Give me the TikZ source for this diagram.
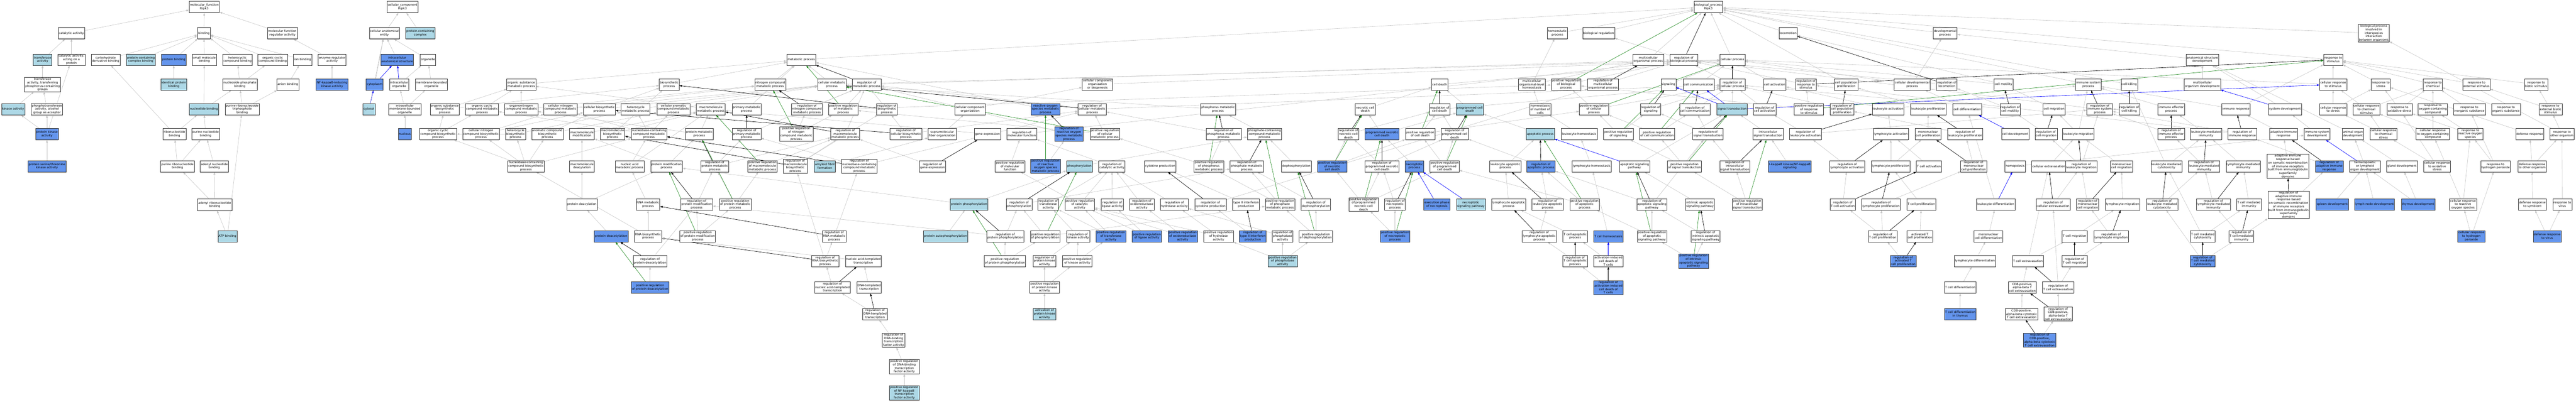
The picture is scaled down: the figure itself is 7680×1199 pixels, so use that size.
\documentclass[tikz,border=0pt]{standalone}
\usepackage{fontspec}
\setmainfont{DejaVu Sans}
\usetikzlibrary{arrows.meta,shadows}
\pgfdeclarelayer{bg}
\pgfsetlayers{bg,main}
\definecolor{lbc}{HTML}{ADD8E6}
\definecolor{cbc}{HTML}{6495ED}
\definecolor{egc}{HTML}{C4C4C4}
\definecolor{epc}{HTML}{228B22}
\tikzset{
 box/.style={draw=black!80,line width=0.9pt,fill=white,align=center,minimum height=34pt,inner xsep=2pt,inner ysep=1.5pt,font=\fontsize{9}{10.3}\selectfont,drop shadow={shadow xshift=0pt,shadow yshift=-1.6pt,fill=black!45}},
 lb/.style={fill=lbc},
 cb/.style={fill=cbc},
 eg/.style={draw=egc,line width=0.9pt,-{Triangle[length=8pt,width=5.5pt]}},
 er/.style={draw=black,line width=1pt,-{Triangle[length=8pt,width=5.5pt]}},
 ep/.style={draw=epc,line width=1pt,-{Triangle[length=8pt,width=5.5pt]}},
 eb/.style={draw=blue,line width=1pt,-{Triangle[length=8pt,width=5.5pt]}}
}
\newcommand\gonode[5]{\node[box,#4] (#1) at (#2,#3) {#5};}
\newcommand\goisa[2]{\foreach \pp in {#2}{\draw[eg] (#1) -- (\pp);}}
\newcommand\goreg[2]{\draw[er] (#1) -- (#2);}
\newcommand\gopos[2]{\draw[ep] (#1) -- (#2);}
\newcommand\gopart[2]{\draw[eb] (#1) -- (#2);}
\begin{document}
\begin{tikzpicture}[x=1pt,y=-1pt]
\useasboundingbox (0,0) rectangle (7680,1199);
% ---------- molecular function ----------
\gonode{mf}{609}{21}{}{molecular\_function\\Ripk3}
\gonode{catact}{213}{99}{}{catalytic activity}
\gonode{bind}{608}{99}{}{binding}
\gonode{mfreg}{842}{99}{}{molecular function\\regulator activity}
\gonode{trans}{127}{178}{lb}{transferase\\activity}
\gonode{catprot}{213}{178}{}{catalytic activity,\\acting on a\\protein}
\gonode{carbb}{315}{178}{}{carbohydrate\\derivative binding}
\gonode{pccb}{420}{178}{lb}{protein-containing\\complex binding}
\gonode{protb}{518}{178}{cb}{protein binding}
\gonode{smb}{609}{178}{}{small molecule\\binding}
\gonode{hetb}{708}{178}{}{heterocyclic\\compound binding}
\gonode{orgcb}{813}{178}{}{organic cyclic\\compound binding}
\gonode{ionb}{902}{178}{}{ion binding}
\gonode{enzreg}{990}{178}{}{enzyme regulator\\activity}
\gonode{transP}{127}{252}{}{transferase\\activity, transferring\\phosphorus-containing\\groups}
\gonode{identb}{518}{252}{lb}{identical protein\\binding}
\gonode{nspb}{715}{252}{}{nucleoside phosphate\\binding}
\gonode{anionb}{858}{252}{}{anion binding}
\gonode{nik}{990}{252}{cb}{NF-kappaB-inducing\\kinase activity}
\gonode{kinase}{39}{326}{lb}{kinase activity}
\gonode{phosalc}{140}{326}{}{phosphotransferase\\activity, alcohol\\group as acceptor}
\gonode{nucb}{608}{326}{lb}{nucleotide binding}
\gonode{prntpb}{722}{326}{}{purine ribonucleoside\\triphosphate\\binding}
\gonode{pk}{140}{400}{cb}{protein kinase\\activity}
\gonode{ribb}{520}{400}{}{ribonucleotide\\binding}
\gonode{purnb}{613}{400}{}{purine nucleotide\\binding}
\gonode{pstk}{140}{496}{cb}{protein serine/threonine\\kinase activity}
\gonode{purrb}{529}{496}{}{purine ribonucleotide\\binding}
\gonode{adenb}{639}{496}{}{adenyl nucleotide\\binding}
\gonode{adenrb}{640}{611}{}{adenyl ribonucleotide\\binding}
\gonode{atp}{678}{705}{lb}{ATP binding}
% ---------- cellular component ----------
\gonode{cc}{1200}{21}{}{cellular\_component\\Ripk3}
\gonode{cae}{1146}{99}{}{cellular anatomical\\entity}
\gonode{pcc}{1253}{99}{lb}{protein-containing\\complex}
\gonode{ias}{1184}{178}{cb}{intracellular\\anatomical structure}
\gonode{organelle}{1276}{178}{}{organelle}
\gonode{cytoplasm}{1117}{252}{cb}{cytoplasm}
\gonode{intorg}{1190}{252}{}{intracellular\\organelle}
\gonode{mbo}{1286}{252}{}{membrane-bounded\\organelle}
\gonode{cytosol}{1100}{326}{lb}{cytosol}
\gonode{imbo}{1207}{326}{}{intracellular\\membrane-bounded\\organelle}
\gonode{nucleus}{1207}{400}{cb}{nucleus}
% ---------- biological process: metabolic ----------
\gonode{orgsubmet}{1554}{252}{}{organic substance\\metabolic process}
\gonode{orgsubbio}{1326}{326}{}{organic substance\\biosynthetic\\process}
\gonode{orgcycmet}{1437}{326}{}{organic cyclic\\compound metabolic\\process}
\gonode{orgnitro}{1554}{326}{}{organonitrogen\\compound metabolic\\process}
\gonode{cellncmp}{1671}{326}{}{cellular nitrogen\\compound metabolic\\process}
\gonode{cellbio}{1787}{326}{}{cellular biosynthetic\\process}
\gonode{hetmet}{1895}{326}{}{heterocycle\\metabolic process}
\gonode{orgcycbio}{1306}{400}{}{organic cyclic\\compound biosynthetic\\process}
\gonode{cellncbio}{1434}{400}{}{cellular nitrogen\\compound biosynthetic\\process}
\gonode{hetbio}{1537}{400}{}{heterocycle\\biosynthetic\\process}
\gonode{arombio}{1632}{400}{}{aromatic compound\\biosynthetic\\process}
\gonode{macromod}{1735}{400}{}{macromolecule\\modification}
\gonode{macrobio}{1826}{400}{}{macromolecule\\biosynthetic\\process}
\gonode{nbcmet}{1935}{400}{}{nucleobase-containing\\compound metabolic\\process}
\gonode{nbcbio}{1568}{496}{}{nucleobase-containing\\compound biosynthetic\\process}
\gonode{macrodeac}{1735}{496}{}{macromolecule\\deacylation}
\gonode{nucacmet}{1877}{496}{}{nucleic acid\\metabolic process}
\gonode{metab}{2389}{178}{}{metabolic process}
\gonode{biosyn}{1995}{252}{}{biosynthetic\\process}
\gonode{ncmp}{2296}{252}{}{nitrogen compound\\metabolic process}
\gonode{cellmet}{2480}{252}{}{cellular metabolic\\process}
\gonode{regmet}{2584}{252}{}{regulation of\\metabolic process}
\gonode{ccob}{3272}{252}{}{cellular component\\organization\\or biogenesis}
\gonode{cellarom}{2008}{326}{}{cellular aromatic\\compound metabolic\\process}
\gonode{macromet}{2119}{326}{}{macromolecule\\metabolic process}
\gonode{primet}{2226}{326}{}{primary metabolic\\process}
\gonode{regncmp}{2406}{326}{}{regulation of\\nitrogen compound\\metabolic process}
\gonode{posregmet}{2514}{326}{}{positive regulation\\of metabolic\\process}
\gonode{regbiosyn}{2644}{326}{}{regulation of\\biosynthetic\\process}
\gonode{ccorg}{2892}{326}{}{cellular component\\organization}
\gonode{ros}{3117}{326}{cb}{reactive oxygen\\species metabolic\\process}
\gonode{regcellmet}{3256}{326}{}{regulation of\\cellular metabolic\\process}
\gonode{protmet}{2085}{400}{}{protein metabolic\\process}
\gonode{regprimet}{2226}{400}{}{regulation of\\primary metabolic\\process}
\gonode{posregncmp}{2374}{400}{}{positive regulation\\of nitrogen\\compound metabolic\\process}
\gonode{regmacromet}{2520}{400}{}{regulation of\\macromolecule\\metabolic process}
\gonode{regcellbio}{2701}{400}{}{regulation of\\cellular biosynthetic\\process}
\gonode{supramol}{2809}{400}{}{supramolecular\\fiber organization}
\gonode{geneexp}{2944}{400}{}{gene expression}
\gonode{regmf}{3046}{400}{}{regulation of\\molecular function}
\gonode{regros}{3187}{400}{cb}{regulation of\\reactive oxygen\\species metabolic\\process}
\gonode{posregcellmet}{3294}{400}{}{positive regulation\\of cellular\\metabolic process}
\gonode{protmod}{1987}{496}{}{protein modification\\process}
\gonode{regprotmet}{2131}{496}{}{regulation of\\protein metabolic\\process}
\gonode{posregmacromet}{2273}{496}{}{positive regulation\\of macromolecule\\metabolic process}
\gonode{regmacrobio}{2371}{496}{}{regulation of\\macromolecule\\biosynthetic\\process}
\gonode{amyloid}{2459}{496}{lb}{amyloid fibril\\formation}
\gonode{regnbc}{2562}{496}{}{regulation of\\nucleobase-containing\\compound metabolic\\process}
\gonode{reggene}{2780}{496}{}{regulation of\\gene expression}
\gonode{posregmf}{3011}{496}{}{positive regulation\\of molecular\\function}
\gonode{posregros}{3117}{496}{cb}{positive regulation\\of reactive\\oxygen species\\metabolic process}
\gonode{phos}{3218}{496}{lb}{phosphorylation}
\gonode{regcat}{3315}{496}{}{regulation of\\catalytic activity}
% ---------- cell death / homeostasis ----------
\gonode{homeo}{4643}{99}{}{homeostatic\\process}
\gonode{bioreg}{4766}{99}{}{biological regulation}
\gonode{celldeath}{4292}{252}{}{cell death}
\gonode{multihomeo}{4567}{252}{}{multicellular\\organismal-level\\homeostasis}
\gonode{posregbp}{4669}{252}{}{positive regulation\\of biological\\process}
\gonode{regmultorg}{4779}{252}{}{regulation of\\multicellular\\organismal process}
\gonode{phosmet}{3631}{326}{}{phosphorus metabolic\\process}
\gonode{necdeath}{4070}{326}{}{necrotic cell\\death}
\gonode{regcd}{4292}{326}{}{regulation of\\cell death}
\gonode{pcd}{4382}{326}{lb}{programmed cell\\death}
\gonode{homeonum}{4592}{326}{}{homeostasis\\of number of\\cells}
\gonode{posregcp}{4752}{326}{}{positive regulation\\of cellular\\process}
\gonode{regphospmet}{3648}{400}{}{regulation of\\phosphorus metabolic\\process}
\gonode{phosphmet}{3770}{400}{}{phosphate-containing\\compound metabolic\\process}
\gonode{regnec}{4020}{400}{}{regulation of\\necrotic cell\\death}
\gonode{prognec}{4120}{400}{cb}{programmed necrotic\\cell death}
\gonode{posregcd}{4234}{400}{}{positive regulation\\of cell death}
\gonode{regpcd}{4337}{400}{}{regulation of\\programmed cell\\death}
\gonode{apoptotic}{4592}{400}{lb}{apoptotic process}
\gonode{leukhomeo}{4708}{400}{}{leukocyte homeostasis}
\gonode{posregsignaling}{4825}{400}{}{positive regulation\\of signaling}
\gonode{cytokine}{3459}{496}{}{cytokine production}
\gonode{posregphospmet}{3604}{496}{}{positive regulation\\of phosphorus\\metabolic process}
\gonode{regphosphmet}{3717}{496}{}{regulation of\\phosphate metabolic\\process}
\gonode{dephos}{3865}{496}{}{dephosphorylation}
\gonode{posregnec}{3972}{496}{cb}{positive regulation\\of necrotic\\cell death}
\gonode{regprognec}{4120}{496}{}{regulation of\\programmed necrotic\\cell death}
\gonode{necroptotic}{4217}{496}{cb}{necroptotic\\process}
\gonode{posregpcd}{4307}{496}{}{positive regulation\\of programmed\\cell death}
\gonode{leukapo}{4488}{496}{}{leukocyte apoptotic\\process}
\gonode{regapo}{4594}{496}{cb}{regulation of\\apoptotic process}
\gonode{lymhomeo}{4745}{496}{}{lymphocyte homeostasis}
% ---------- cellular process / signaling ----------
\gonode{bp}{5093}{21}{}{biological\_process\\Ripk3}
\gonode{loco}{5331}{99}{}{locomotion}
\gonode{devproc}{5799}{99}{}{developmental\\process}
\gonode{multorg}{4914}{178}{}{multicellular\\organismal process}
\gonode{regbp}{5020}{178}{}{regulation of\\biological process}
\gonode{cellproc}{5165}{178}{}{cellular process}
\gonode{signaling}{4974}{252}{}{signaling}
\gonode{cellcomm}{5064}{252}{}{cell communication}
\gonode{regcp}{5165}{252}{}{regulation of\\cellular process}
\gonode{cellact}{5291}{252}{}{cell activation}
\gonode{regrs}{5384}{252}{}{regulation of\\response to\\stimulus}
\gonode{cellpop}{5504}{252}{}{cell population\\proliferation}
\gonode{celldevp}{5701}{252}{}{cellular developmental\\process}
\gonode{regloco}{5804}{252}{}{regulation of\\locomotion}
\gonode{cellmot}{5973}{252}{}{cell motility}
\gonode{immsys}{6226}{252}{}{immune system\\process}
\gonode{regsignaling}{4921}{326}{}{regulation of\\signaling}
\gonode{regcellcomm}{5053}{326}{}{regulation of\\cell communication}
\gonode{sigtrans}{5164}{326}{lb}{signal transduction}
\gonode{regcellact}{5261}{326}{}{regulation of\\cell activation}
\gonode{posregrs}{5393}{326}{}{positive regulation\\of response\\to stimulus}
\gonode{regcellpop}{5492}{326}{}{regulation of\\cell population\\proliferation}
\gonode{leukact}{5629}{326}{}{leukocyte activation}
\gonode{leukprolif}{5749}{326}{}{leukocyte proliferation}
\gonode{celldiff}{5865}{326}{}{cell differentiation}
\gonode{regcellmot}{5993}{326}{}{regulation of\\cell motility}
\gonode{cellmig}{6124}{326}{}{cell migration}
\gonode{regimmsys}{6260}{326}{}{regulation of\\immune system\\process}
\gonode{posregcellcomm}{4940}{400}{}{positive regulation\\of cell communication}
\gonode{regsigtrans}{5092}{400}{}{regulation of\\signal transduction}
\gonode{intrasig}{5271}{400}{}{intracellular\\signal transduction}
\gonode{regleukact}{5383}{400}{}{regulation of\\leukocyte activation}
\gonode{lymact}{5637}{400}{}{lymphocyte activation}
\gonode{monoprolif}{5748}{400}{}{mononuclear\\cell proliferation}
\gonode{regleukprolif}{5859}{400}{}{regulation of\\leukocyte proliferation}
\gonode{celldev}{6008}{400}{}{cell development}
\gonode{regcellmig}{6100}{400}{}{regulation of\\cell migration}
\gonode{leukmig}{6196}{400}{}{leukocyte migration}
\gonode{aposig}{4873}{496}{}{apoptotic signaling\\pathway}
\gonode{posregsigtrans}{5022}{496}{}{positive regulation\\of signal transduction}
\gonode{regintrasig}{5172}{496}{}{regulation of\\intracellular\\signal transduction}
\gonode{ikk}{5336}{496}{cb}{I-kappaB kinase/NF-kappaB\\signaling}
\gonode{reglymact}{5507}{496}{}{regulation of\\lymphocyte activation}
\gonode{lymprolif}{5637}{496}{}{lymphocyte proliferation}
\gonode{tcellact}{5751}{496}{}{T cell activation}
\gonode{regmonoprolif}{5884}{496}{}{regulation of\\mononuclear\\cell proliferation}
\gonode{hemo}{6008}{496}{}{hemopoiesis}
\gonode{cellextra}{6108}{496}{}{cellular extravasation}
\gonode{regleukmig}{6205}{496}{}{regulation of\\leukocyte migration}
% ---------- response / development ----------
\gonode{interspecies}{7077}{99}{}{biological process\\involved in\\interspecies\\interaction\\between organisms}
\gonode{anat}{6566}{178}{}{anatomical structure\\development}
\gonode{respstim}{6956}{178}{}{response to\\stimulus}
\gonode{cellkill}{6348}{252}{}{cell killing}
\gonode{multorgdev}{6566}{252}{}{multicellular\\organism development}
\gonode{cellrs}{6956}{252}{}{cellular response\\to stimulus}
\gonode{respstress}{7098}{252}{}{response to\\stress}
\gonode{respchem}{7253}{252}{}{response to\\chemical}
\gonode{respext}{7383}{252}{}{response to\\external stimulus}
\gonode{respbiotic}{7561}{252}{}{response to\\biotic stimulus}
\gonode{regcellkill}{6348}{326}{}{regulation of\\cell killing}
\gonode{immeff}{6473}{326}{}{immune effector\\process}
\gonode{immresp}{6666}{326}{}{immune response}
\gonode{sysdev}{6812}{326}{}{system development}
\gonode{cellrstress}{6956}{326}{}{cellular response\\to stress}
\gonode{cellrchem}{7055}{326}{}{cellular response\\to chemical\\stimulus}
\gonode{respox}{7154}{326}{}{response to\\oxidative stress}
\gonode{respoxy}{7253}{326}{}{response to\\oxygen-containing\\compound}
\gonode{respinorg}{7362}{326}{}{response to\\inorganic substance}
\gonode{resporg}{7471}{326}{}{response to\\organic substance}
\gonode{respextbiotic}{7604}{326}{}{response to\\external biotic\\stimulus}
\gonode{regimmeff}{6473}{400}{}{regulation of\\immune effector\\process}
\gonode{leukimm}{6577}{400}{}{leukocyte mediated\\immunity}
\gonode{regimmresp}{6685}{400}{}{regulation of\\immune response}
\gonode{adapt}{6808}{400}{}{adaptive immune\\response}
\gonode{immsysdev}{6908}{400}{}{immune system\\development}
\gonode{animorg}{7015}{400}{}{animal organ\\development}
\gonode{cellrchemstress}{7106}{400}{}{cellular response\\to chemical\\stress}
\gonode{cellroxy}{7253}{400}{}{cellular response\\to oxygen-containing\\compound}
\gonode{resproS}{7365}{400}{}{response to\\reactive oxygen\\species}
\gonode{defresp}{7542}{400}{}{defense response}
\gonode{respother}{7638}{400}{}{response to\\other organism}
\gonode{monomig}{6325}{496}{}{mononuclear\\cell migration}
\gonode{leukcyto}{6459}{496}{}{leukocyte mediated\\cytotoxicity}
\gonode{regleukimm}{6571}{496}{}{regulation of\\leukocyte mediated\\immunity}
\gonode{lymimm}{6688}{496}{}{lymphocyte mediated\\immunity}
\gonode{adaptsom}{6821}{496}{}{adaptive immune\\response based\\on somatic recombination\\of immune receptors\\built from immunoglobulin\\superfamily\\domains}
\gonode{regadapt}{6944}{496}{cb}{regulation of\\adaptive immune\\response}
\gonode{hemlym}{7051}{496}{}{hematopoietic\\or lymphoid\\organ development}
\gonode{gland}{7161}{496}{}{gland development}
\gonode{cellrox}{7266}{496}{}{cellular response\\to oxidative\\stress}
\gonode{resph2o2}{7440}{496}{}{response to\\hydrogen peroxide}
\gonode{defother}{7549}{496}{}{defense response\\to other organism}
% ---------- row 610 ----------
\gonode{protdeacyl}{1735}{610}{}{protein deacylation}
\gonode{rnamet}{1932}{610}{}{RNA metabolic\\process}
\gonode{regprotmod}{2077}{610}{}{regulation of\\protein modification\\process}
\gonode{posregprotmet}{2192}{610}{}{positive regulation\\of protein metabolic\\process}
\gonode{protphos}{2889}{610}{lb}{protein phosphorylation}
\gonode{regphos}{3038}{610}{}{regulation of\\phosphorylation}
\gonode{regtransf}{3125}{610}{}{regulation of\\transferase\\activity}
\gonode{posregcat}{3219}{610}{}{positive regulation\\of catalytic\\activity}
\gonode{regligase}{3316}{610}{}{regulation of\\ligase activity}
\gonode{regoxid}{3404}{610}{}{regulation of\\oxidoreductase\\activity}
\gonode{reghydro}{3501}{610}{}{regulation of\\hydrolase activity}
\gonode{regcytok}{3609}{610}{}{regulation of\\cytokine production}
\gonode{ifng}{3715}{610}{}{type II interferon\\production}
\gonode{posregphosphmet}{3816}{610}{}{positive regulation\\of phosphate\\metabolic process}
\gonode{regdephos}{3923}{610}{}{regulation of\\dephosphorylation}
\gonode{posregprognec}{4065}{610}{}{positive regulation\\of programmed\\necrotic cell\\death}
\gonode{regnecrop}{4159}{610}{}{regulation of\\necroptotic\\process}
\gonode{execnec}{4284}{610}{cb}{execution phase\\of necroptosis}
\gonode{necsig}{4385}{610}{lb}{necroptotic\\signaling pathway}
\gonode{lymapo}{4498}{610}{}{lymphocyte apoptotic\\process}
\gonode{regleukapo}{4614}{610}{}{regulation of\\leukocyte apoptotic\\process}
\gonode{posregapo}{4724}{610}{}{positive regulation\\of apoptotic\\process}
\gonode{regaposig}{4925}{610}{}{regulation of\\apoptotic signaling\\pathway}
\gonode{intrapo}{5068}{610}{}{intrinsic apoptotic\\signaling pathway}
\gonode{posregintrasig}{5209}{610}{}{positive regulation\\of intracellular\\signal transduction}
\gonode{regtcellact}{5494}{610}{}{regulation of\\T cell activation}
\gonode{reglymprolif}{5608}{610}{}{regulation of\\lymphocyte proliferation}
\gonode{tcellprolif}{5728}{610}{}{T cell proliferation}
\gonode{leukdiff}{5950}{610}{}{leukocyte differentiation}
\gonode{regcellextra}{6121}{610}{}{regulation of\\cellular extravasation}
\gonode{regmonomig}{6224}{610}{}{regulation of\\mononuclear\\cell migration}
\gonode{lymmig}{6328}{610}{}{lymphocyte migration}
\gonode{regleukcyto}{6446}{610}{}{regulation of\\leukocyte mediated\\cytotoxicity}
\gonode{reglymimm}{6599}{610}{}{regulation of\\lymphocyte mediated\\immunity}
\gonode{tcellimm}{6705}{610}{}{T cell mediated\\immunity}
\gonode{regadaptsom}{6823}{611}{}{regulation of\\adaptive immune\\response based\\on somatic recombination\\of immune receptors\\built from immunoglobulin\\superfamily\\domains}
\gonode{spleen}{6953}{610}{cb}{spleen development}
\gonode{lymphnode}{7079}{610}{cb}{lymph node development}
\gonode{thymus}{7209}{610}{cb}{thymus development}
\gonode{cellrros}{7343}{610}{}{cellular response\\to reactive\\oxygen species}
\gonode{defsymb}{7550}{610}{}{defense response\\to symbiont}
\gonode{respvirus}{7639}{610}{}{response to\\virus}
% ---------- row 705 ----------
\gonode{protdeacet}{1822}{705}{cb}{protein deacetylation}
\gonode{rnabio}{1932}{705}{}{RNA biosynthetic\\process}
\gonode{posregprotmod}{2080}{705}{}{positive regulation\\of protein modification\\process}
\gonode{regrnamet}{2487}{705}{}{regulation of\\RNA metabolic\\process}
\gonode{autophos}{2819}{705}{lb}{protein autophosphorylation}
\gonode{regprotphos}{2997}{705}{}{regulation of\\protein phosphorylation}
\gonode{posregphos}{3116}{705}{}{positive regulation\\of phosphorylation}
\gonode{regkinase}{3214}{705}{}{regulation of\\kinase activity}
\gonode{posregtransf}{3312}{705}{cb}{positive regulation\\of transferase\\activity}
\gonode{posregligase}{3419}{705}{cb}{positive regulation\\of ligase activity}
\gonode{posregoxid}{3526}{705}{cb}{positive regulation\\of oxidoreductase\\activity}
\gonode{posreghydro}{3633}{705}{}{positive regulation\\of hydrolase\\activity}
\gonode{regifng}{3735}{705}{cb}{regulation of\\type II interferon\\production}
\gonode{regphosphatase}{3824}{705}{}{regulation of\\phosphatase\\activity}
\gonode{posregdephos}{3923}{705}{}{positive regulation\\of dephosphorylation}
\gonode{posregnecrop}{4159}{705}{cb}{positive regulation\\of necroptotic\\process}
\gonode{reglymapo}{4589}{705}{}{regulation of\\lymphocyte apoptotic\\process}
\gonode{tcellapo}{4696}{705}{}{T cell apoptotic\\process}
\gonode{tcellhomeo}{4795}{705}{cb}{T cell homeostasis}
\gonode{posregaposig}{4925}{705}{}{positive regulation\\of apoptotic\\signaling pathway}
\gonode{regintrapo}{5085}{705}{}{regulation of\\intrinsic apoptotic\\signaling pathway}
\gonode{regtcellprolif}{5613}{705}{}{regulation of\\T cell proliferation}
\gonode{acttcellprolif}{5724}{705}{}{activated T\\cell proliferation}
\gonode{monodiff}{5928}{705}{}{mononuclear\\cell differentiation}
\gonode{tcellmig}{6185}{705}{}{T cell migration}
\gonode{reglymmig}{6294}{705}{}{regulation of\\lymphocyte migration}
\gonode{tcellcyto}{6567}{705}{}{T cell mediated\\cytotoxicity}
\gonode{regtcellimm}{6682}{705}{}{regulation of\\T cell mediated\\immunity}
\gonode{cellrh2o2}{7368}{705}{cb}{cellular response\\to hydrogen\\peroxide}
\gonode{defvirus}{7594}{705}{cb}{defense response\\to virus}
% ---------- row 779 ----------
\gonode{regprotdeacet}{1938}{779}{}{regulation of\\protein deacetylation}
\gonode{regrnabio}{2460}{779}{}{regulation of\\RNA biosynthetic\\process}
\gonode{nuctrans}{2574}{779}{}{nucleic acid-templated\\transcription}
\gonode{posregprotphos}{2996}{779}{}{positive regulation\\of protein phosphorylation}
\gonode{regpk}{3114}{779}{}{regulation of\\protein kinase\\activity}
\gonode{posregkinase}{3212}{779}{}{positive regulation\\of kinase activity}
\gonode{posregphosphatase}{3824}{779}{lb}{positive regulation\\of phosphatase\\activity}
\gonode{regtcellapo}{4696}{779}{}{regulation of\\T cell apoptotic\\process}
\gonode{aicd}{4795}{779}{}{activation-induced\\cell death of\\T cells}
\gonode{posregintrapo}{5049}{779}{cb}{positive regulation\\of intrinsic\\apoptotic signaling\\pathway}
\gonode{regacttcell}{5674}{779}{cb}{regulation of\\activated T\\cell proliferation}
\gonode{lymdiff}{5888}{779}{}{lymphocyte differentiation}
\gonode{tcellextra}{6046}{779}{}{T cell extravasation}
\gonode{regtcellmig}{6185}{779}{}{regulation of\\T cell migration}
\gonode{regtcellcyto}{6567}{779}{cb}{regulation of\\T cell mediated\\cytotoxicity}
% ---------- deeper rows ----------
\gonode{posregprotdeacet}{1938}{858}{cb}{positive regulation\\of protein deacetylation}
\gonode{regnuctrans}{2482}{858}{}{regulation of\\nucleic acid-templated\\transcription}
\gonode{dnatrans}{2591}{858}{}{DNA-templated\\transcription}
\gonode{posregpk}{3114}{858}{}{positive regulation\\of protein kinase\\activity}
\gonode{regaicd}{4795}{858}{cb}{regulation of\\activation-induced\\cell death of\\T cells}
\gonode{tcelldiff}{5844}{858}{}{T cell differentiation}
\gonode{cdextra}{6029}{858}{}{CD8-positive,\\alpha-beta T\\cell extravasation}
\gonode{regtcellextra}{6136}{858}{}{regulation of\\T cell extravasation}
\gonode{regdnatrans}{2609}{937}{}{regulation of\\DNA-templated\\transcription}
\gonode{actpk}{3114}{937}{lb}{activation of\\protein kinase\\activity}
\gonode{tcellthymus}{5844}{937}{cb}{T cell differentiation\\in thymus}
\gonode{cdcytoextra}{6027}{937}{}{CD8-positive,\\alpha-beta cytotoxic\\T cell extravasation}
\gonode{regcdextra}{6136}{937}{}{regulation of\\CD8-positive,\\alpha-beta T\\cell extravasation}
\gonode{regdnabind}{2664}{1015}{}{regulation of\\DNA-binding\\transcription\\factor activity}
\gonode{regcdcyto}{6081}{1015}{cb}{regulation of\\CD8-positive,\\alpha-beta cytotoxic\\T cell extravasation}
\gonode{posregdnabind}{2696}{1094}{}{positive regulation\\of DNA-binding\\transcription\\factor activity}
\gonode{posregnfkb}{2696}{1172}{lb}{positive regulation\\of NF-kappaB\\transcription\\factor activity}
% ================= edges =================
\begin{pgfonlayer}{bg}
\fill[white] (0,0) rectangle (7680,1199);
% MF
\goisa{catact}{mf}\goisa{bind}{mf}\goisa{mfreg}{mf}
\goisa{trans}{catact}\goisa{catprot}{catact}
\goisa{carbb}{bind}\goisa{pccb}{bind}\goisa{protb}{bind}\goisa{smb}{bind}\goisa{hetb}{bind}\goisa{orgcb}{bind}\goisa{ionb}{bind}
\goisa{enzreg}{mfreg}\goisa{transP}{trans}\goisa{identb}{protb}\goisa{nspb}{hetb,orgcb}\goisa{anionb}{ionb}\goisa{nik}{enzreg}
\goisa{kinase}{transP}\goisa{phosalc}{transP}\goisa{nucb}{smb,nspb}\goisa{prntpb}{nspb,anionb}
\goisa{pk}{kinase,phosalc,catprot}\goisa{ribb}{nucb,carbb}\goisa{purnb}{nucb}\goisa{pstk}{pk}
\goisa{purrb}{ribb,purnb}\goisa{adenb}{purnb}\goisa{adenrb}{purrb,adenb}\goisa{atp}{adenrb,prntpb}
% CC
\goisa{cae}{cc}\goisa{pcc}{cc}\goisa{ias}{cae}\goisa{organelle}{cae}\goisa{cytoplasm}{cae}\gopart{cytoplasm}{ias}
\gopart{intorg}{ias}\goisa{intorg}{organelle}\goisa{mbo}{organelle}\gopart{cytosol}{cytoplasm}\goisa{cytosol}{cae}
\goisa{imbo}{intorg,mbo}\goisa{nucleus}{imbo}
% BP top
\goisa{metab}{bp}\goisa{cellproc}{bp}\goisa{bioreg}{bp}\goisa{homeo}{bp}\goisa{loco}{bp}\goisa{devproc}{bp}
\goisa{interspecies}{bp}\goisa{multorg}{bp}\goisa{respstim}{bp}\goisa{immsys}{bp}\goisa{cellkill}{bp}\goisa{cellpop}{bp}
\goisa{regbp}{bioreg}\goreg{regbp}{bp}\goisa{posregbp}{regbp}\gopos{posregbp}{bp}
% metabolic
\goisa{biosyn}{metab}\goisa{ncmp}{metab}\goisa{cellmet}{metab,cellproc}\goisa{regmet}{regbp}\goreg{regmet}{metab}
\goisa{orgsubmet}{metab}\goisa{ccob}{cellproc}
\goisa{orgsubbio}{orgsubmet,biosyn}\goisa{orgcycmet}{orgsubmet}\goisa{orgnitro}{orgsubmet,ncmp}\goisa{cellncmp}{ncmp,cellmet}
\goisa{cellbio}{biosyn,cellmet}\goisa{hetmet}{cellmet}\goisa{cellarom}{cellmet}\goisa{macromet}{orgsubmet}\goisa{primet}{metab}
\goisa{regncmp}{regmet}\goreg{regncmp}{ncmp}\goisa{posregmet}{regmet,posregbp}\gopos{posregmet}{metab}
\goisa{regbiosyn}{regmet}\goreg{regbiosyn}{biosyn}\goisa{ccorg}{ccob}\goisa{ros}{metab}
\goisa{regcellmet}{regmet,regcp}\goreg{regcellmet}{cellmet}
\goisa{orgcycbio}{orgcycmet,orgsubbio}\goisa{cellncbio}{cellncmp,cellbio}\goisa{hetbio}{hetmet,orgcycbio}\goisa{arombio}{cellarom,cellbio}
\goisa{macromod}{macromet}\goisa{macrobio}{macromet,biosyn}\goisa{nbcmet}{cellarom,hetmet,orgcycmet,cellncmp}
\goisa{protmet}{macromet,orgnitro}\goisa{regprimet}{regmet}\goreg{regprimet}{primet}
\goisa{posregncmp}{regncmp,posregmet}\gopos{posregncmp}{ncmp}\goisa{regmacromet}{regmet}\goreg{regmacromet}{macromet}
\goisa{regcellbio}{regbiosyn,regcellmet}\goreg{regcellbio}{cellbio}\goisa{supramol}{ccorg}\goisa{geneexp}{macromet}\goisa{regmf}{regbp}
\goisa{regros}{regmet}\goreg{regros}{ros}\goisa{posregcellmet}{regcellmet,posregmet}\gopos{posregcellmet}{cellmet}
\goisa{nbcbio}{nbcmet,cellncbio,hetbio,arombio,orgcycbio}\goisa{macrodeac}{macromod}\goisa{nucacmet}{nbcmet,macromet}
\goisa{protmod}{protmet,macromod}\goisa{regprotmet}{regmacromet,regprimet}\goreg{regprotmet}{protmet}
\goisa{posregmacromet}{regmacromet}\gopos{posregmacromet}{macromet}\goisa{regmacrobio}{regmacromet,regbiosyn}\goreg{regmacrobio}{macrobio}
\goisa{amyloid}{supramol}\goisa{regnbc}{regcellmet,regprimet}\goreg{regnbc}{nbcmet}\goisa{reggene}{regmacromet}\goreg{reggene}{geneexp}
\goisa{posregmf}{regmf}\goisa{posregros}{regros}\gopos{posregros}{ros}\goisa{phos}{phosphmet}\goisa{regcat}{regmf}
% row 610
\goisa{protdeacyl}{macrodeac,protmod}\goisa{rnamet}{nucacmet}\goisa{regprotmod}{regprotmet}\goreg{regprotmod}{protmod}
\goisa{posregprotmet}{regprotmet,posregmacromet}\gopos{posregprotmet}{protmet}\goisa{protphos}{phos,protmod}
\goisa{regphos}{regphosphmet}\goreg{regphos}{phos}\goisa{regtransf}{regcat}\goisa{posregcat}{regcat,posregmf}
\goisa{regligase}{regcat}\goisa{regoxid}{regcat}\goisa{reghydro}{regcat}\goisa{regcytok}{regmultorg}\goreg{regcytok}{cytokine}
\goisa{ifng}{cytokine}\goisa{posregphosphmet}{regphosphmet,posregphospmet}\gopos{posregphosphmet}{phosphmet}
\goisa{regdephos}{regphosphmet}\goreg{regdephos}{dephos}\goisa{posregprognec}{regprognec,posregnec,posregpcd}\gopos{posregprognec}{prognec}
\goisa{regnecrop}{regprognec}\goreg{regnecrop}{necroptotic}\gopart{execnec}{necroptotic}\gopart{necsig}{necroptotic}
\goisa{lymapo}{leukapo}\goisa{regleukapo}{regapo}\goreg{regleukapo}{leukapo}\goisa{posregapo}{regapo,posregpcd}\gopos{posregapo}{apoptotic}
\goisa{regaposig}{regapo,regsigtrans}\goreg{regaposig}{aposig}\goisa{intrapo}{aposig}
\goisa{posregintrasig}{regintrasig,posregsigtrans}\gopos{posregintrasig}{intrasig}
\goisa{regtcellact}{reglymact}\goreg{regtcellact}{tcellact}\goisa{reglymprolif}{regmonoprolif}\goreg{reglymprolif}{lymprolif}
\goisa{tcellprolif}{lymprolif}\goisa{leukdiff}{celldiff}\gopart{leukdiff}{hemo}
\goisa{regcellextra}{regleukmig}\goreg{regcellextra}{cellextra}\goisa{regmonomig}{regleukmig}\goreg{regmonomig}{monomig}
\goisa{lymmig}{monomig}\goisa{regleukcyto}{regleukimm}\goreg{regleukcyto}{leukcyto}\goisa{reglymimm}{regleukimm}\goreg{reglymimm}{lymimm}
\goisa{tcellimm}{lymimm}\goisa{regadaptsom}{regadapt}\goreg{regadaptsom}{adaptsom}
\goisa{spleen}{hemlym}\goisa{lymphnode}{hemlym}\goisa{thymus}{hemlym,gland}\goisa{cellrros}{resproS,cellroxy}
\goisa{defsymb}{defother}\goisa{respvirus}{respother}
% row 705
\goisa{protdeacet}{protdeacyl}\goisa{rnabio}{rnamet,nbcbio}\goisa{posregprotmod}{regprotmod,posregprotmet}\gopos{posregprotmod}{protmod}
\goisa{regrnamet}{regnbc}\goreg{regrnamet}{rnamet}\goisa{autophos}{protphos}
\goisa{regprotphos}{regphos,regprotmod}\goreg{regprotphos}{protphos}\goisa{posregphos}{regphos,posregphosphmet}\gopos{posregphos}{phos}
\goisa{regkinase}{regtransf}\goisa{posregtransf}{regtransf,posregcat}\goisa{posregligase}{regligase,posregcat}
\goisa{posregoxid}{regoxid,posregcat}\goisa{posreghydro}{reghydro,posregcat}\goisa{regifng}{regcytok}\goreg{regifng}{ifng}
\goisa{regphosphatase}{reghydro}\goisa{posregdephos}{regdephos,posregphosphmet}\gopos{posregdephos}{dephos}
\goisa{posregnecrop}{regnecrop,posregprognec}\gopos{posregnecrop}{necroptotic}
\goisa{reglymapo}{regleukapo}\goreg{reglymapo}{lymapo}\goisa{tcellapo}{lymapo}\goisa{tcellhomeo}{lymhomeo}
\goisa{posregaposig}{regaposig,posregapo}\gopos{posregaposig}{aposig}\goisa{regintrapo}{regaposig}\goreg{regintrapo}{intrapo}
\goisa{regtcellprolif}{reglymprolif,regtcellact}\goreg{regtcellprolif}{tcellprolif}\goisa{acttcellprolif}{tcellprolif}
\goisa{monodiff}{leukdiff}\goisa{tcellmig}{lymmig}\goisa{reglymmig}{regmonomig}\goreg{reglymmig}{lymmig}
\goisa{tcellcyto}{leukcyto,tcellimm}\goisa{regtcellimm}{reglymimm,regadaptsom}\goreg{regtcellimm}{tcellimm}
\goisa{cellrh2o2}{resph2o2,cellrros}\goisa{defvirus}{defsymb,respvirus}
% row 779
\goisa{regprotdeacet}{regprotmod}\goreg{regprotdeacet}{protdeacet}\goisa{regrnabio}{regrnamet,regmacrobio}\goreg{regrnabio}{rnabio}
\goisa{nuctrans}{rnabio}\goisa{posregprotphos}{regprotphos,posregphos}\gopos{posregprotphos}{protphos}
\goisa{regpk}{regkinase}\goisa{posregkinase}{regkinase,posregtransf}\goisa{posregphosphatase}{regphosphatase,posreghydro,posregdephos}
\goisa{regtcellapo}{reglymapo}\goreg{regtcellapo}{tcellapo}\goisa{aicd}{tcellapo}\gopart{aicd}{tcellhomeo}
\goisa{posregintrapo}{regintrapo,posregaposig}\gopos{posregintrapo}{intrapo}
\goisa{regacttcell}{regtcellprolif}\goreg{regacttcell}{acttcellprolif}\goisa{lymdiff}{monodiff}
\goisa{tcellextra}{tcellmig,cellextra}\goisa{regtcellmig}{reglymmig}\goreg{regtcellmig}{tcellmig}
\goisa{regtcellcyto}{regtcellimm,regleukcyto}\goreg{regtcellcyto}{tcellcyto}
% deeper
\goisa{posregprotdeacet}{regprotdeacet}\gopos{posregprotdeacet}{protdeacet}
\goisa{regnuctrans}{regrnabio}\goreg{regnuctrans}{nuctrans}\goisa{dnatrans}{nuctrans}
\goisa{posregpk}{regpk,posregkinase}\goisa{regaicd}{regtcellapo}\goreg{regaicd}{aicd}\goisa{tcelldiff}{lymdiff}
\goisa{cdextra}{tcellextra}\goisa{regtcellextra}{regtcellmig,regcellextra}\goreg{regtcellextra}{tcellextra}
\goisa{regdnatrans}{regnuctrans}\goreg{regdnatrans}{dnatrans}\goisa{actpk}{posregpk}\goisa{tcellthymus}{tcelldiff}
\goisa{cdcytoextra}{cdextra}\goisa{regcdextra}{regtcellextra}\goreg{regcdextra}{cdextra}
\goisa{regdnabind}{regdnatrans}\goisa{regcdcyto}{regcdextra}\goreg{regcdcyto}{cdcytoextra}
\goisa{posregdnabind}{regdnabind}\goisa{posregnfkb}{posregdnabind}
% cell death etc.
\goisa{celldeath}{cellproc}\goisa{multihomeo}{homeo,multorg}\goisa{regmultorg}{regbp}\goreg{regmultorg}{multorg}
\goisa{phosmet}{cellmet}\goisa{necdeath}{celldeath}\goisa{regcd}{regcp}\goreg{regcd}{celldeath}\goisa{pcd}{celldeath}
\goisa{homeonum}{multihomeo}\goisa{posregcp}{regcp,posregbp}\gopos{posregcp}{cellproc}
\goisa{regphospmet}{regcellmet}\goreg{regphospmet}{phosmet}\goisa{phosphmet}{phosmet}
\goisa{regnec}{regcd}\goreg{regnec}{necdeath}\goisa{prognec}{necdeath,pcd}\goisa{posregcd}{regcd,posregcp}\gopos{posregcd}{celldeath}
\goisa{regpcd}{regcd}\goreg{regpcd}{pcd}\goisa{apoptotic}{pcd}\goisa{leukhomeo}{homeonum}
\goisa{posregsignaling}{regsignaling,posregcp}\gopos{posregsignaling}{signaling}
\goisa{posregphospmet}{regphospmet,posregcellmet}\gopos{posregphospmet}{phosmet}
\goisa{regphosphmet}{regphospmet}\goreg{regphosphmet}{phosphmet}\goisa{dephos}{phosphmet}
\goisa{posregnec}{regnec,posregcd}\gopos{posregnec}{necdeath}\goisa{regprognec}{regnec,regpcd}\goreg{regprognec}{prognec}
\goisa{necroptotic}{prognec}\goisa{posregpcd}{regpcd,posregcd}\gopos{posregpcd}{pcd}\goisa{leukapo}{apoptotic}
\goisa{regapo}{regpcd}\goreg{regapo}{apoptotic}\goisa{lymhomeo}{leukhomeo}
% cellular process / signaling
\goisa{signaling}{cellproc}\goisa{cellcomm}{cellproc}\goisa{regcp}{regbp}\goreg{regcp}{cellproc}\goisa{cellact}{cellproc}
\goisa{regrs}{regbp}\goreg{regrs}{respstim}\goisa{celldevp}{devproc,cellproc}\goisa{regloco}{regbp}\goreg{regloco}{loco}
\goisa{cellmot}{cellproc,loco}\goisa{regsignaling}{regcp}\goreg{regsignaling}{signaling}\goisa{regcellcomm}{regcp}\goreg{regcellcomm}{cellcomm}
\gopart{sigtrans}{signaling}\gopart{sigtrans}{cellcomm}\goisa{sigtrans}{regcp}\gopart{sigtrans}{cellrs}
\goisa{regcellact}{regcp}\goreg{regcellact}{cellact}\goisa{posregrs}{regrs,posregbp}\gopos{posregrs}{respstim}
\goisa{regcellpop}{regcp}\goreg{regcellpop}{cellpop}\goisa{leukact}{cellact,immsys}\goisa{leukprolif}{cellpop}\goisa{celldiff}{celldevp}
\goisa{regcellmot}{regloco,regcp}\goreg{regcellmot}{cellmot}\goisa{cellmig}{cellmot}\goisa{regimmsys}{regbp}\goreg{regimmsys}{immsys}
\goisa{posregcellcomm}{regcellcomm,posregcp}\gopos{posregcellcomm}{cellcomm}\goisa{regsigtrans}{regsignaling,regcellcomm}\goreg{regsigtrans}{sigtrans}
\goisa{intrasig}{sigtrans}\goisa{regleukact}{regcellact,regimmsys}\goreg{regleukact}{leukact}\goisa{lymact}{leukact}
\goisa{monoprolif}{leukprolif}\goisa{regleukprolif}{regcellpop}\goreg{regleukprolif}{leukprolif}\gopart{celldev}{celldiff}
\goisa{regcellmig}{regcellmot}\goreg{regcellmig}{cellmig}\goisa{leukmig}{cellmig,immsys}
\goisa{aposig}{sigtrans}\gopart{aposig}{apoptotic}\goisa{posregsigtrans}{regsigtrans,posregsignaling,posregcellcomm}\gopos{posregsigtrans}{sigtrans}
\goisa{regintrasig}{regsigtrans}\goreg{regintrasig}{intrasig}\goisa{ikk}{intrasig}\goisa{reglymact}{regleukact}\goreg{reglymact}{lymact}
\goisa{lymprolif}{monoprolif,lymact}\goisa{tcellact}{lymact}\goisa{regmonoprolif}{regleukprolif}\goreg{regmonoprolif}{monoprolif}
\goisa{hemo}{immsysdev}\goisa{cellextra}{leukmig}\goisa{regleukmig}{regcellmig,regimmsys}\goreg{regleukmig}{leukmig}
% response / development
\goisa{anat}{devproc}\goisa{multorgdev}{anat}\goisa{cellrs}{respstim,cellproc}
\goisa{respstress}{respstim}\goisa{respchem}{respstim}\goisa{respext}{respstim}\goisa{respbiotic}{respstim}
\goisa{regcellkill}{regimmsys}\goreg{regcellkill}{cellkill}\goisa{immeff}{immsys}\goisa{immresp}{immsys,respstim}
\goisa{sysdev}{anat}\gopart{sysdev}{multorgdev}\goisa{cellrstress}{respstress,cellrs}\goisa{cellrchem}{respchem,cellrs}
\goisa{respox}{respstress,respchem}\goisa{respoxy}{respchem}\goisa{respinorg}{respchem}\goisa{resporg}{respchem}
\goisa{respextbiotic}{respbiotic,respext}\goisa{regimmeff}{regimmsys}\goreg{regimmeff}{immeff}\goisa{leukimm}{immeff}
\goisa{regimmresp}{regimmsys,regrs}\goreg{regimmresp}{immresp}\goisa{adapt}{immresp}\goisa{immsysdev}{sysdev}
\goisa{animorg}{anat}\goisa{cellrchemstress}{cellrchem,cellrstress}\goisa{cellroxy}{respoxy,cellrchem}
\goisa{resproS}{respoxy,respox}\goisa{defresp}{respstress}\goisa{respother}{respextbiotic,interspecies}
\goisa{monomig}{leukmig}\goisa{leukcyto}{leukimm,cellkill}\goisa{regleukimm}{regimmeff}\goreg{regleukimm}{leukimm}
\goisa{lymimm}{leukimm}\goisa{adaptsom}{adapt}\goisa{regadapt}{regimmresp}\goreg{regadapt}{adapt}
\goisa{hemlym}{animorg}\gopart{hemlym}{immsysdev}\goisa{gland}{animorg}\goisa{cellrox}{respox,cellrchemstress}
\goisa{resph2o2}{resproS,respinorg}\goisa{defother}{defresp,respother}
\end{pgfonlayer}
\end{tikzpicture}
\end{document}
